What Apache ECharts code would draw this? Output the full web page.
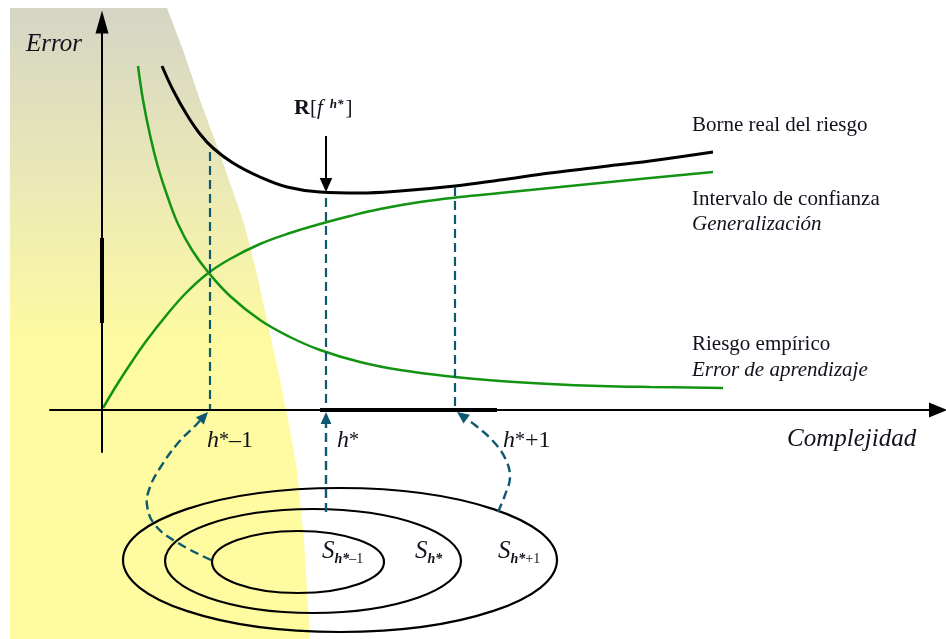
<!DOCTYPE html>
<html>
<head>
<meta charset="utf-8">
<script src="https://cdn.jsdelivr.net/npm/echarts@6/dist/echarts.min.js"></script>
<style>
  html, body { margin: 0; padding: 0; background: #fff; }
  #chart { width: 946px; height: 639px; }
</style>
</head>
<body>
<div id="chart"></div>
<script>
  // diagram units (about 1 px each), origin where the two axes cross
  const shadeEdge = [[-92, 402], [65, 402], [81, 360], [98, 310], [120, 250], [141, 190], [154, 140], [165, 90], [178, 30], [188, -20], [195, -60], [202, -130], [208, -229], [-92, -229]]

  const realRisk = [[60, 344], [71, 320], [85, 295], [98, 276], [111, 262], [131, 247], [158, 233], [185, 223], [218, 218], [258, 217], [298, 219], [353, 224], [398, 230], [448, 237], [498, 243], [548, 249], [611, 258]]
  const empiricalRisk = [[36, 344], [41, 310], [48, 275], [56, 243], [65, 215], [76, 186], [90, 160], [106, 138], [128, 114], [158, 90], [188, 73], [218, 60], [258, 48], [298, 40], [353, 33], [398, 29], [448, 26], [498, 24], [548, 23], [621, 22]]
  const confidence = [[1, 2], [16, 27], [31, 50], [45, 70], [63, 93], [83, 116], [105, 136], [128, 151], [158, 166], [188, 177], [218, 186], [248, 194], [278, 201], [318, 208], [358, 213], [398, 217], [458, 223], [518, 229], [611, 238]]

  // h*-1, h*, h*+1
  const drops = [[[108, 258], [108, 1]], [[224, 212], [224, 1]], [[353, 223], [353, 1]]]
  const links = [
    [[109, -150], [76, -133], [53, -115], [45, -95], [48, -77], [58, -58], [76, -33], [94, -15], [106, -2]],
    [[224, -102], [224, -2]],
    [[396, -102], [403, -85], [408, -67], [403, -48], [390, -30], [373, -15], [355, -2]]
  ]
  const pointer = [[224, 274], [224, 218]]

  // nested sets S_h*-1, S_h*, S_h*+1 : [cx, cy, rx, ry]
  const sets = [[238, -150, 217, 72], [211, -151, 148, 52], [196, -152, 86, 31]]

  const axisBold = [[[0, 172], [0, 87]], [[218, 0], [395, 0]]]

  const labels = [
    { text: '{ax|Error}', at: [-76, 366] },
    { text: '{b|R}{n|[}{i|f}{sup|h*}{n|]}', at: [192, 302] },
    { text: '{n|Borne real del riesgo}', at: [590, 285] },
    { text: '{n|Intervalo de confianza}', at: [590, 211] },
    { text: '{i|Generalización}', at: [590, 186] },
    { text: '{n|Riesgo empírico}', at: [590, 66] },
    { text: '{i|Error de aprendizaje}', at: [590, 40] },
    { text: '{ax|Complejidad}', at: [685, -29] },
    { text: '{h|h}{st|*}{hn|–1}', at: [105, -31] },
    { text: '{h|h}{st|*}', at: [235, -31] },
    { text: '{h|h}{st|*}{hn|+1}', at: [401, -31] },
    { text: '{s|S}{sub|h*}{subn|–1}', at: [220, -141] },
    { text: '{s|S}{sub|h*}', at: [313, -141] },
    { text: '{s|S}{sub|h*}{subn|+1}', at: [396, -141] }
  ]

  const serif = "'Liberation Serif', 'Times New Roman', serif"
  const ink = '#11111c'
  const green = '#129312'
  const teal = '#0d5a6e'

  const rich = {
    n: { fontFamily: serif, fontSize: 21, fill: ink, lineHeight: 26 },
    i: { fontFamily: serif, fontSize: 21, fontStyle: 'italic', fill: ink, lineHeight: 26 },
    b: { fontFamily: serif, fontSize: 22, fontWeight: 'bold', fill: ink, lineHeight: 26 },
    sup: { fontFamily: serif, fontSize: 13, fontStyle: 'italic', fontWeight: 'bold', fill: ink, verticalAlign: 'top', lineHeight: 14, padding: [3, 2, 0, 7] },
    ax: { fontFamily: serif, fontSize: 25, fontStyle: 'italic', fill: ink, lineHeight: 30 },
    h: { fontFamily: serif, fontSize: 24, fontStyle: 'italic', fill: ink, lineHeight: 28 },
    st: { fontFamily: serif, fontSize: 20, fill: ink, lineHeight: 28 },
    hn: { fontFamily: serif, fontSize: 24, fill: ink, lineHeight: 28 },
    s: { fontFamily: serif, fontSize: 25, fontStyle: 'italic', fill: ink, lineHeight: 30 },
    sub: { fontFamily: serif, fontSize: 14, fontStyle: 'italic', fontWeight: 'bold', fill: ink, verticalAlign: 'bottom', lineHeight: 16 },
    subn: { fontFamily: serif, fontSize: 14, fill: ink, verticalAlign: 'bottom', lineHeight: 16 }
  }

  // arrows and dashed guides, drawn by one custom series
  const arrows = [
    ...drops.map((points) => ({ points, color: teal, dash: [9, 5], width: 2.2, head: 0 })),
    ...links.map((points) => ({ points, color: teal, dash: [9, 5], width: 2.4, head: 12 })),
    { points: pointer, color: '#000', dash: null, width: 2, head: 14 },
    ...axisBold.map((points) => ({ points, color: '#000', dash: null, width: 4, head: 0 }))
  ]

  const chart = echarts.init(document.getElementById('chart'))

  const curve = (name, data, color, width) => ({
    name,
    type: 'line',
    data,
    smooth: 0.4,
    showSymbol: false,
    clip: false,
    silent: true,
    z: 4,
    lineStyle: { color, width }
  })

  const renderArrow = (params, api) => {
    const a = arrows[params.dataIndex]
    const pts = a.points.map((p) => api.coord(p))
    const children = []
    if (a.head) {
      const tip = pts[pts.length - 1]
      const prev = pts[pts.length - 2]
      const dx = tip[0] - prev[0]
      const dy = tip[1] - prev[1]
      const len = Math.sqrt(dx * dx + dy * dy)
      const ux = dx / len
      const uy = dy / len
      const base = [tip[0] - ux * a.head, tip[1] - uy * a.head]
      const hw = a.head * 0.45
      pts[pts.length - 1] = base
      children.push({
        type: 'polygon',
        z2: 2,
        shape: { points: [tip, [base[0] - uy * hw, base[1] + ux * hw], [base[0] + uy * hw, base[1] - ux * hw]] },
        style: { fill: a.color }
      })
    }
    children.push({
      type: 'polyline',
      z2: 1,
      shape: { points: pts, smooth: pts.length > 2 ? 0.4 : 0 },
      style: { stroke: a.color, lineWidth: a.width, lineDash: a.dash, fill: null }
    })
    return { type: 'group', children }
  }

  const option = {
    animation: false,
    backgroundColor: '#fff',
    grid: { left: 50, right: 8, top: 22, bottom: 187 },
    xAxis: {
      type: 'value',
      min: -52,
      max: 836,
      splitLine: { show: false },
      axisTick: { show: false },
      axisLabel: { show: false },
      axisLine: {
        onZero: true,
        symbol: ['none', 'triangle'],
        symbolSize: [15, 18],
        lineStyle: { color: '#000', width: 2 }
      },
      z: 6
    },
    yAxis: {
      type: 'value',
      min: -42,
      max: 388,
      splitLine: { show: false },
      axisTick: { show: false },
      axisLabel: { show: false },
      axisLine: {
        onZero: true,
        symbol: ['none', 'triangle'],
        symbolSize: [13, 23],
        lineStyle: { color: '#000', width: 2 }
      },
      z: 6
    },
    series: [
      {
        type: 'custom',
        clip: false,
        silent: true,
        z: 0,
        data: [[0, 0]],
        renderItem: (params, api) => ({
          type: 'polygon',
          shape: { points: shadeEdge.map((p) => api.coord(p)) },
          style: {
            fill: new echarts.graphic.LinearGradient(0, 0, 0, 1, [
              { offset: 0, color: '#d5d5c5' },
              { offset: 0.28, color: '#ebe9b6' },
              { offset: 0.52, color: '#fdfaa2' },
              { offset: 1, color: '#fefba0' }
            ])
          }
        })
      },
      {
        type: 'custom',
        clip: false,
        silent: true,
        z: 3,
        data: sets,
        renderItem: (params, api) => {
          const c = api.coord([api.value(0), api.value(1)])
          const r = api.size([api.value(2), api.value(3)])
          return {
            type: 'ellipse',
            shape: { cx: c[0], cy: c[1], rx: r[0], ry: r[1] },
            style: { fill: 'none', stroke: '#000', lineWidth: 2.2 }
          }
        }
      },
      curve('Borne real del riesgo', realRisk, '#000', 3),
      curve('Riesgo empírico', empiricalRisk, green, 2.5),
      curve('Intervalo de confianza', confidence, green, 2.5),
      {
        type: 'custom',
        clip: false,
        silent: true,
        z: 5,
        data: arrows.map((a) => a.points[0]),
        renderItem: renderArrow
      },
      {
        type: 'custom',
        clip: false,
        silent: true,
        z: 7,
        data: labels.map((l, i) => [l.at[0], l.at[1], i]),
        renderItem: (params, api) => {
          const p = api.coord([api.value(0), api.value(1)])
          return {
            type: 'text',
            x: p[0],
            y: p[1],
            style: {
              text: labels[api.value(2)].text,
              align: 'left',
              verticalAlign: 'middle',
              rich
            }
          }
        }
      }
    ]
  }

  chart.setOption(option)
</script>
</body>
</html>
